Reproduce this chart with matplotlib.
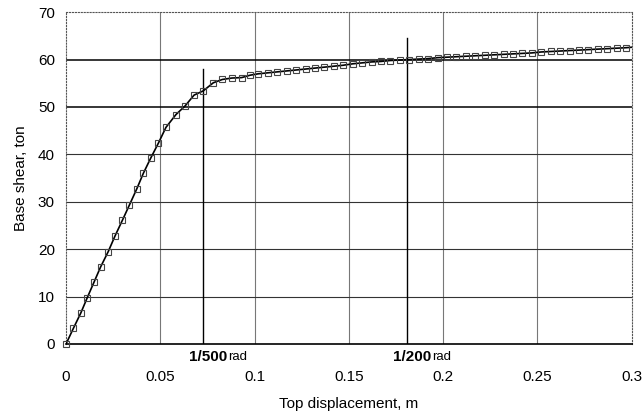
import matplotlib.pyplot as plt

# Pushover curve data
disp = [0.0, 0.0039, 0.0078, 0.0113, 0.0148, 0.0184, 0.0224, 0.026, 0.0299, 0.0336,
        0.0375, 0.041, 0.0449, 0.0489, 0.053, 0.0583, 0.0631, 0.0679, 0.0728, 0.0781,
        0.0829, 0.0879, 0.0932, 0.0976,
        0.102, 0.107, 0.112, 0.117, 0.122, 0.127, 0.132, 0.137, 0.142, 0.147,
        0.152, 0.157, 0.162, 0.167, 0.172, 0.177, 0.182, 0.187, 0.192, 0.197,
        0.202, 0.207, 0.212, 0.217, 0.222, 0.227, 0.232, 0.237, 0.242, 0.247,
        0.252, 0.257, 0.262, 0.267, 0.272, 0.277, 0.282, 0.287, 0.292, 0.297]
shear = [0.0, 3.3, 6.5, 9.8, 13.0, 16.3, 19.5, 22.8, 26.1, 29.3,
         32.7, 36.0, 39.2, 42.3, 45.7, 48.4, 50.2, 52.5, 53.4, 55.1,
         55.8, 56.1, 56.2, 56.7,
         57.0, 57.2, 57.4, 57.6, 57.8, 58.0, 58.2, 58.4, 58.6, 58.8,
         59.1, 59.3, 59.5, 59.6, 59.8, 59.9, 60.0, 60.1, 60.2, 60.4,
         60.5, 60.6, 60.7, 60.8, 60.9, 61.0, 61.1, 61.2, 61.3, 61.4,
         61.6, 61.7, 61.8, 61.9, 62.0, 62.1, 62.2, 62.3, 62.4, 62.5]

# line curve (extends to the right edge)
line_x = disp + [0.3]
line_y = shear + [62.6]

# drift limit markers
drift_labels = ["1/500", "1/200"]
drift_x = [0.0726, 0.181]
drift_top = [58.0, 64.5]

xticks = [0, 0.05, 0.1, 0.15, 0.2, 0.25, 0.3]
xtick_labels = ["0", "0.05", "0.1", "0.15", "0.2", "0.25", "0.3"]
yticks = [0, 10, 20, 30, 40, 50, 60, 70]

plt.rcParams['font.family'] = ['Liberation Sans', 'DejaVu Sans']

fig = plt.figure(figsize=(6.44, 4.19), dpi=100)
ax = fig.add_axes([0.1025, 0.179, 0.8785, 0.792])

# grid
for x in xticks[1:-1]:
    ax.axvline(x, color="#777777", lw=0.8, zorder=1)
for y in yticks[1:-1]:
    if y >= 50:
        ax.axhline(y, color="black", lw=1.1, zorder=1)
    else:
        ax.axhline(y, color="#333333", lw=0.8, zorder=1)

for x, top in zip(drift_x, drift_top):
    ax.plot([x, x], [0, top], color="black", lw=1.0, zorder=2)

ax.plot(line_x, line_y, color="black", lw=1.2, zorder=3)
ax.plot(disp, shear, linestyle="none", marker="s", markersize=4.6,
        markerfacecolor="none", markeredgecolor="#444444", markeredgewidth=0.8,
        zorder=4, clip_on=False)

ax.set_xlim(0, 0.3)
ax.set_ylim(0, 70)
ax.set_xticks(xticks)
ax.set_xticklabels(xtick_labels)
ax.set_yticks(yticks)
ax.tick_params(length=0, labelsize=11, pad=8)
ax.tick_params(axis="x", pad=19)

for side in ["top", "right", "left"]:
    ax.spines[side].set_linestyle(":")
    ax.spines[side].set_color("#555555")
ax.spines["bottom"].set_color("black")
ax.spines["bottom"].set_linewidth(1.2)

for lab, x in zip(drift_labels, drift_x):
    ax.annotate(lab, xy=(x, 0), xytext=(-10, -4), textcoords="offset points",
                ha="left", va="top", fontsize=11, fontweight="bold")
    ax.annotate("rad", xy=(x, 0), xytext=(18, -5), textcoords="offset points",
                ha="left", va="top", fontsize=9.5)

ax.set_xlabel("Top displacement, m", fontsize=11, labelpad=9)
ax.set_ylabel("Base shear, ton", fontsize=11, labelpad=7)

fig.savefig("out.png", dpi=100)
